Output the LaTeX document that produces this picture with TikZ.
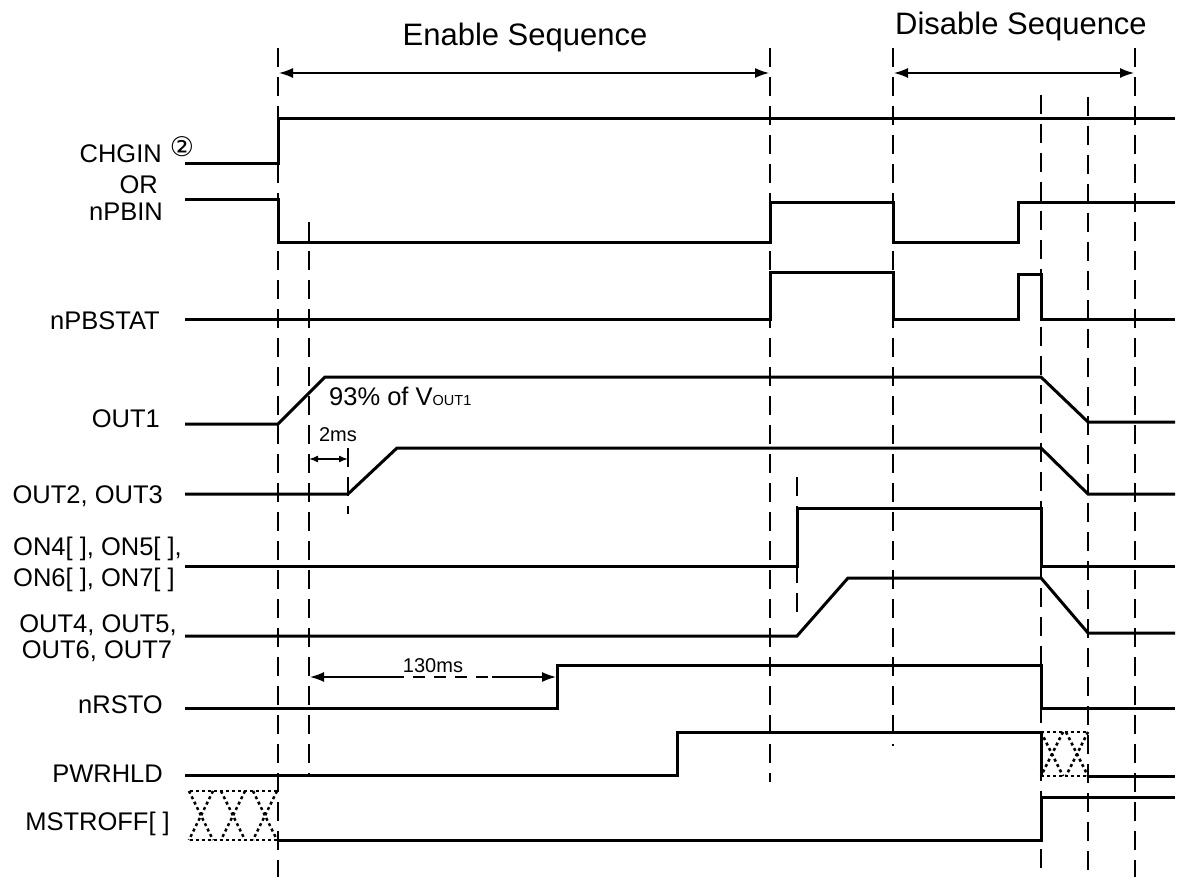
\documentclass[tikz,border=0pt]{standalone}
\usepackage{fontspec}
\setmainfont{Liberation Sans}
\newfontfamily\djv{DejaVu Sans}
\usetikzlibrary{arrows.meta}
\begin{document}
\begin{tikzpicture}[x=1pt,y=-1pt,
  sig/.style={line width=3pt, line join=miter},
  vdash/.style={line width=2pt, dash pattern=on 19pt off 10pt},
  dimarrow/.style={line width=1.5pt, {Latex[length=14pt,width=10pt]}-{Latex[length=14pt,width=10pt]}},
  smallarrow/.style={line width=1.5pt, {Latex[length=9pt,width=7pt]}-{Latex[length=9pt,width=7pt]}},
  hatch/.style={line width=2.5pt, dash pattern=on 3pt off 3pt},
  lbl/.style={font=\fontsize{25.5}{30}\selectfont, inner sep=0pt},
  ttl/.style={font=\fontsize{31}{36}\selectfont, inner sep=0pt},
  note/.style={font=\fontsize{20}{24}\selectfont, inner sep=0pt}]
\useasboundingbox[fill=white] (0,0) rectangle (1178,877);

% ---------- vertical dashed markers ----------
\draw[vdash] (278,48) -- (278,877);
\draw[vdash] (309,222) -- (309,776);
\draw[vdash] (348,448) -- (348,514);
\draw[vdash] (770,48) -- (770,782);
\draw[vdash] (797,477) -- (797,620);
\draw[vdash] (893,48) -- (893,746);
\draw[vdash] (1041,95) -- (1041,877);
\draw[vdash] (1088,97) -- (1088,877);
\draw[vdash] (1135,48) -- (1135,877);

% ---------- sequence arrows and titles ----------
\coordinate (en1) at (279,73); \coordinate (en2) at (769,73);
\coordinate (dis1) at (894,73); \coordinate (dis2) at (1134,73);
\draw[dimarrow] (en1) -- (en2);
\draw[dimarrow] (dis1) -- (dis2);
\node[ttl, anchor=base] (entitle) at (525,46) {Enable Sequence};
\node[ttl, anchor=base] (distitle) at (1021,35) {Disable Sequence};

% ---------- signal labels ----------
\node[lbl, anchor=base east] (lchgin) at (162,163) {CHGIN};
\node[font=\djv\fontsize{27}{30}\selectfont, inner sep=0pt] (circ) at (182,147) {②};
\node[lbl, anchor=base east] (lor) at (158,194) {OR};
\node[lbl, anchor=base east] (lnpbin) at (163,221) {nPBIN};
\node[lbl, anchor=base east] (lnpbstat) at (160,330) {nPBSTAT};
\node[lbl, anchor=base east] (lout1) at (160,427) {OUT1};
\node[lbl, anchor=base east] (lout23) at (163,503) {OUT2, OUT3};
\node[lbl, anchor=base west] (lon1) at (13,555) {ON4[ ], ON5[ ],};
\node[lbl, anchor=base west] (lon2) at (13,586) {ON6[ ], ON7[ ]};
\node[lbl, anchor=base] (lo4a) at (98,632) {OUT4, OUT5,};
\node[lbl, anchor=base] (lo4b) at (97,658) {OUT6, OUT7};
\node[lbl, anchor=base east] (lnrsto) at (163,713) {nRSTO};
\node[lbl, anchor=base east] (lpwrhld) at (163,782) {PWRHLD};
\node[lbl, anchor=base east] (lmstr) at (170,830) {MSTROFF[ ]};

% ---------- waveforms ----------
% CHGIN
\draw[sig] (185,164) -- (278,164) -- (278,119) -- (1175,119);
% nPBIN
\draw[sig] (185,200) -- (278,200) -- (278,243) -- (770,243) -- (770,203) -- (893,203)
  -- (893,243) -- (1018,243) -- (1018,203) -- (1175,203);
% nPBSTAT
\draw[sig] (185,320) -- (770,320) -- (770,273) -- (893,273) -- (893,320) -- (1018,320)
  -- (1018,275) -- (1041,275) -- (1041,320) -- (1175,320);
% OUT1
\draw[sig] (185,424) -- (278,424) -- (325,377) -- (1041,377) -- (1088,422) -- (1175,422);
% OUT2, OUT3
\draw[sig] (185,494) -- (348,494) -- (397,448) -- (1041,448) -- (1088,494) -- (1175,494);
% ON4..ON7
\draw[sig] (185,566) -- (797,566) -- (797,508) -- (1041,508) -- (1041,566) -- (1175,566);
% OUT4..OUT7
\draw[sig] (185,636) -- (797,636) -- (848,578) -- (1041,578) -- (1088,633) -- (1175,633);
% nRSTO
\draw[sig] (185,708) -- (557,708) -- (557,665) -- (1041,665) -- (1041,708) -- (1175,708);
% PWRHLD
\draw[sig] (185,775) -- (677,775) -- (677,732) -- (1041,732) -- (1041,776);
\draw[sig] (1088,776) -- (1175,776);
% MSTROFF
\draw[sig] (278,840) -- (1041,840) -- (1041,797) -- (1175,797);

% ---------- undefined-state hatching ----------
\draw[hatch] (190,791) -- (278,791);
\draw[hatch] (190,840) -- (278,840);
\foreach \c in {201,233,265}{
  \draw[hatch] (\c-12,791) -- (\c+12,840);
  \draw[hatch] (\c+12,791) -- (\c-12,840);
}
\draw[hatch] (1041,732) -- (1088,732);
\draw[hatch] (1041,776) -- (1088,776);
\foreach \c in {1052,1077}{
  \draw[hatch] (\c-11,732) -- (\c+11,776);
  \draw[hatch] (\c+11,732) -- (\c-11,776);
}

% ---------- annotations ----------
\node[lbl, anchor=base west] (pct) at (329,405) {93\% of V\fontsize{14.5}{16}\selectfont OUT1};
\coordinate (t2a) at (309,459); \coordinate (t2b) at (348,459);
\draw[smallarrow] (t2a) -- (t2b);
\node[note, anchor=base] (n2ms) at (338,441) {2ms};

\coordinate (t130a) at (310,677); \coordinate (t130m1) at (392,677);
\coordinate (t130m2) at (492,677); \coordinate (t130b) at (556,677);
\draw[line width=1.5pt, {Latex[length=14pt,width=10pt]}-] (t130a) -- (t130m1);
\draw[line width=1.5pt, dash pattern=on 12pt off 9pt] (t130m1) -- (t130m2);
\draw[line width=1.5pt, -{Latex[length=14pt,width=10pt]}] (t130m2) -- (t130b);
\node[note, anchor=base] (n130) at (433,672) {130ms};
\end{tikzpicture}
\end{document}
